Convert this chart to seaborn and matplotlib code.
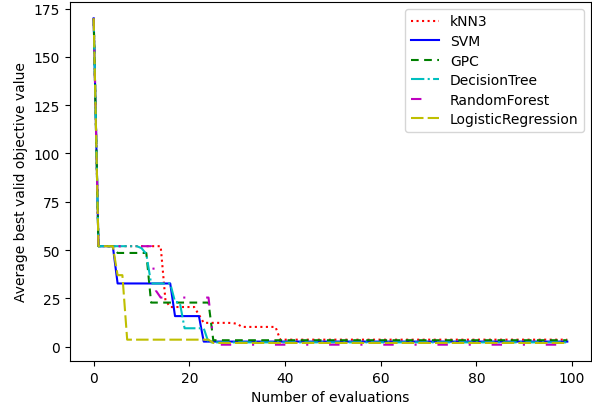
import numpy as np
import pandas as pd
import seaborn as sns
import matplotlib
matplotlib.use("Agg")
import matplotlib.pyplot as plt

# best valid objective value after each evaluation (averaged over runs)
evals = np.arange(100)

knn3 = [170.0, 52.0, 52.0, 52.0, 52.0, 52.0, 52.0, 52.0, 52.0, 52.0,
        52.0, 52.0, 52.0, 52.0, 52.0, 24.0, 20.5, 20.5, 20.5, 20.5,
        20.5, 20.5, 16.5, 12.3, 12.3, 12.3, 12.3, 12.3, 12.3, 12.2,
        11.8, 10.2, 10.2, 10.2, 10.2, 10.2, 10.2, 10.2, 10.2, 3.6,
        3.6, 3.6, 3.6, 3.6, 3.6, 3.6, 3.6, 3.6, 3.6, 3.6,
        3.6, 3.6, 3.6, 3.6, 3.6, 3.6, 3.6, 3.6, 3.6, 3.6,
        3.6, 3.6, 3.6, 3.6, 3.6, 3.6, 3.6, 3.6, 3.6, 3.6,
        3.6, 3.6, 3.6, 3.6, 3.6, 3.6, 3.6, 3.6, 3.6, 3.6,
        3.6, 3.6, 3.6, 3.6, 3.6, 3.6, 3.6, 3.6, 3.6, 3.6,
        3.6, 3.6, 3.6, 3.6, 3.6, 3.6, 3.6, 3.6, 3.6, 3.6]

svm = [170.0, 52.0, 52.0, 52.0, 52.0, 32.7, 32.7, 32.7, 32.7, 32.7,
       32.7, 32.7, 32.7, 32.7, 32.7, 32.7, 32.7, 15.8, 15.8, 15.8,
       15.8, 15.8, 15.8, 2.6, 2.6, 2.6, 2.6, 2.6, 2.6, 2.6,
       2.6, 2.6, 2.6, 2.6, 2.6, 2.6, 2.6, 2.6, 2.6, 2.6,
       2.6, 2.6, 2.6, 2.6, 2.6, 2.6, 2.6, 2.6, 2.6, 2.6,
       2.6, 2.6, 2.6, 2.6, 2.6, 2.6, 2.6, 2.6, 2.6, 2.6,
       2.6, 2.6, 2.6, 2.6, 2.6, 2.6, 2.6, 2.6, 2.6, 2.6,
       2.6, 2.6, 2.6, 2.6, 2.6, 2.6, 2.6, 2.6, 2.6, 2.6,
       2.6, 2.6, 2.6, 2.6, 2.6, 2.6, 2.6, 2.6, 2.6, 2.6,
       2.6, 2.6, 2.6, 2.6, 2.6, 2.6, 2.6, 2.6, 2.6, 2.6]

gpc = [170.0, 52.0, 52.0, 52.0, 52.0, 48.5, 48.5, 48.5, 48.5, 48.5,
       48.5, 48.5, 22.8, 22.8, 22.8, 22.8, 22.8, 22.8, 22.8, 22.8,
       22.8, 22.8, 22.8, 22.8, 22.8, 3.3, 3.3, 3.3, 3.3, 3.3,
       3.3, 3.3, 3.3, 3.3, 3.3, 3.3, 3.3, 3.3, 3.3, 3.3,
       3.3, 3.3, 3.3, 3.3, 3.3, 3.3, 3.3, 3.3, 3.3, 3.3,
       3.3, 3.3, 3.3, 3.3, 3.3, 3.3, 3.3, 3.3, 3.3, 3.3,
       3.3, 3.3, 3.3, 3.3, 3.3, 3.3, 3.3, 3.3, 3.3, 3.3,
       3.3, 3.3, 3.3, 3.3, 3.3, 3.3, 3.3, 3.3, 3.3, 3.3,
       3.3, 3.3, 3.3, 3.3, 3.3, 3.3, 3.3, 3.3, 3.3, 3.3,
       3.3, 3.3, 3.3, 3.3, 3.3, 3.3, 3.3, 3.3, 3.3, 3.3]

dtree = [170.0, 52.0, 52.0, 52.0, 52.0, 52.0, 52.0, 52.0, 52.0, 52.0,
         51.0, 48.0, 32.7, 32.7, 32.7, 32.7, 32.7, 23.2, 22.8, 9.5,
         9.5, 9.5, 9.5, 9.5, 2.2, 2.2, 2.2, 2.2, 2.2, 2.2,
         2.2, 2.2, 2.2, 2.2, 2.2, 2.2, 2.2, 2.2, 2.2, 2.2,
         2.2, 2.2, 2.2, 2.2, 2.2, 2.2, 2.2, 2.2, 2.2, 2.2,
         2.2, 2.2, 2.2, 2.2, 2.2, 2.2, 2.2, 2.2, 2.2, 2.2,
         2.2, 2.2, 2.2, 2.2, 2.2, 2.2, 2.2, 2.2, 2.2, 2.2,
         2.2, 2.2, 2.2, 2.2, 2.2, 2.2, 2.2, 2.2, 2.2, 2.2,
         2.2, 2.2, 2.2, 2.2, 2.2, 2.2, 2.2, 2.2, 2.2, 2.2,
         2.2, 2.2, 2.2, 2.2, 2.2, 2.2, 2.2, 2.2, 2.2, 2.2]

rforest = [170.0, 52.0, 52.0, 52.0, 52.0, 52.0, 52.0, 52.0, 52.0, 52.0,
           52.0, 52.0, 52.0, 29.0, 25.4, 25.4, 25.4, 25.4, 25.4, 25.4,
           25.4, 25.4, 25.4, 25.4, 25.4, 4.0, 1.0, 1.0, 1.0, 1.0,
           1.0, 1.0, 1.0, 1.0, 1.0, 1.0, 1.0, 1.0, 1.0, 1.0,
           1.0, 1.0, 1.0, 1.0, 1.0, 1.0, 1.0, 1.0, 1.0, 1.0,
           1.0, 1.0, 1.0, 1.0, 1.0, 1.0, 1.0, 1.0, 1.0, 1.0,
           1.0, 1.0, 1.0, 1.0, 1.0, 1.0, 1.0, 1.0, 1.0, 1.0,
           1.0, 1.0, 1.0, 1.0, 1.0, 1.0, 1.0, 1.0, 1.0, 1.0,
           1.0, 1.0, 1.0, 1.0, 1.0, 1.0, 1.0, 1.0, 1.0, 1.0,
           1.0, 1.0, 1.0, 1.0, 1.0, 1.0, 1.0, 1.0, 1.0, 1.0]

logreg = [170.0, 52.0, 52.0, 52.0, 52.0, 37.0, 37.0, 3.6, 3.6, 3.6,
          3.6, 3.6, 3.6, 3.6, 3.6, 3.6, 3.6, 3.6, 3.6, 3.6,
          3.6, 3.6, 3.6, 3.6, 3.6, 1.9, 1.9, 1.9, 1.9, 1.9,
          1.9, 1.9, 1.9, 1.9, 1.9, 1.9, 1.9, 1.9, 1.9, 1.9,
          1.9, 1.9, 1.9, 1.9, 1.9, 1.9, 1.9, 1.9, 1.9, 1.9,
          1.9, 1.9, 1.9, 1.9, 1.9, 1.9, 1.9, 1.9, 1.9, 1.9,
          1.9, 1.9, 1.9, 1.9, 1.9, 1.9, 1.9, 1.9, 1.9, 1.9,
          1.9, 1.9, 1.9, 1.9, 1.9, 1.9, 1.9, 1.9, 1.9, 1.9,
          1.9, 1.9, 1.9, 1.9, 1.9, 1.9, 1.9, 1.9, 1.9, 1.9,
          1.9, 1.9, 1.9, 1.9, 1.9, 1.9, 1.9, 1.9, 1.9, 1.9]

names = ["kNN3", "SVM", "GPC", "DecisionTree", "RandomForest", "LogisticRegression"]
series = [knn3, svm, gpc, dtree, rforest, logreg]
colors = ["r", "b", "g", "c", "m", "y"]
styles = [":", "-", (0, (3.7, 2.6)), "-.", (0, (5, 10, 1, 10)), (0, (6, 2))]

#%%

fig, ax = plt.subplots(figsize=(5.92, 4.06), dpi=100)
fig.subplots_adjust(left=70/592, right=591/592, bottom=44/406, top=403/406)

for name, vals, c, ls in zip(names, series, colors, styles):
    sns.lineplot(x=evals, y=vals, color=c, linestyle=ls, label=name,
                 errorbar=None, ax=ax)

ax.set_xlabel("Number of evaluations")
ax.set_ylabel("Average best valid objective value")
ax.legend(loc="upper right", labelspacing=0.4)

plt.savefig("out.png", dpi=100)
